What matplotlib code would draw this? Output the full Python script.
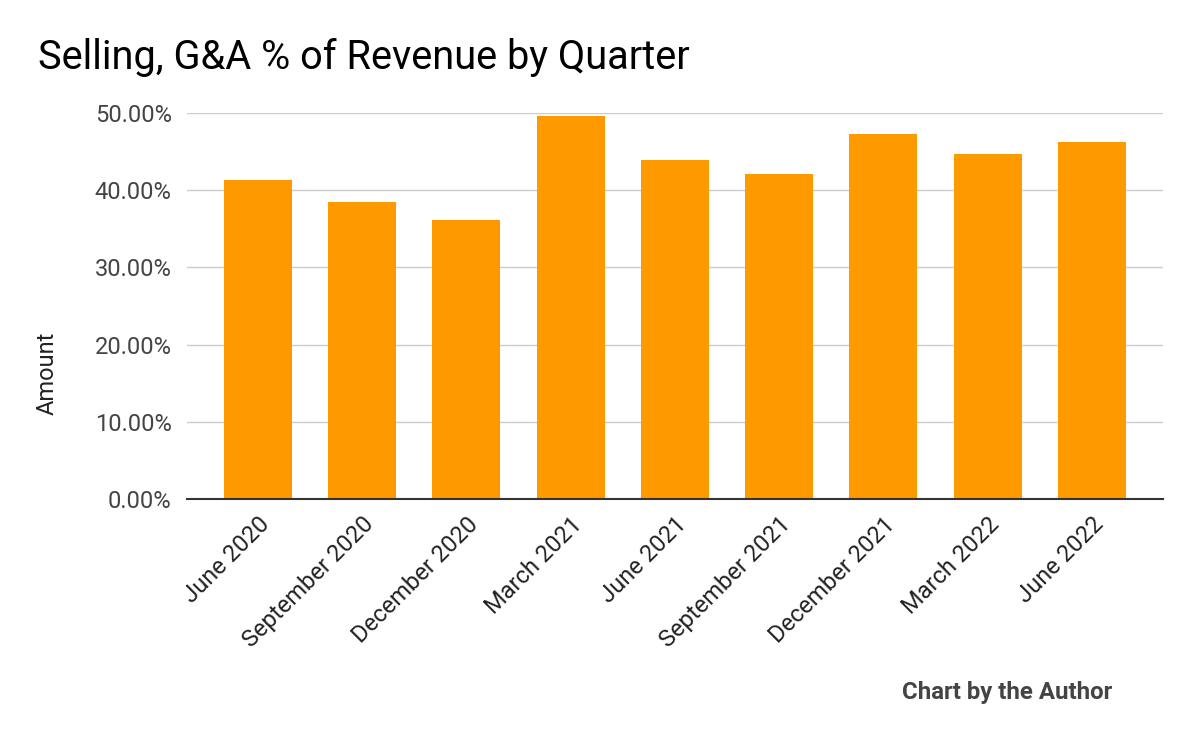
import matplotlib
matplotlib.use("Agg")
import matplotlib.pyplot as plt
from matplotlib.ticker import FuncFormatter

plt.rcParams['font.family'] = ['Roboto', 'DejaVu Sans']

# data
quarters = ['June 2020', 'September 2020', 'December 2020', 'March 2021', 'June 2021',
            'September 2021', 'December 2021', 'March 2022', 'June 2022']
sga_pct = [41.3, 38.5, 36.1, 49.6, 43.9, 42.1, 47.3, 44.7, 46.2]
y_ticks = [0, 10, 20, 30, 40, 50]

fig = plt.figure(figsize=(12, 7.42), dpi=100)
ax = fig.add_axes([0.1558, 0.3275, 0.8133, 0.5202])

x = range(len(quarters))
ax.bar(x, sga_pct, width=0.652, color='#ff9900', zorder=2)

ax.set_xlim(-0.681, len(quarters) - 1 + 0.681)
ax.set_ylim(0, 50)
ax.set_yticks(y_ticks)
ax.yaxis.set_major_formatter(FuncFormatter(lambda v, p: f"{v:.2f}%"))
ax.grid(axis='y', color='#cccccc', linewidth=1.0, zorder=0)
ax.tick_params(axis='y', length=0, pad=11, labelsize=17, labelcolor='#444444')

ax.set_xticks(list(x))
ax.set_xticklabels(quarters, rotation=45, ha='right', rotation_mode='anchor',
                   fontsize=17, color='#222222')
ax.tick_params(axis='x', length=0, pad=10)

for s in ['top', 'right', 'left']:
    ax.spines[s].set_visible(False)
ax.spines['bottom'].set_color('#333333')
ax.spines['bottom'].set_linewidth(1.5)
ax.spines['bottom'].set_zorder(3)

fig.text(38 / 1200, 1 - 69 / 742, 'Selling, G&A % of Revenue by Quarter',
         fontsize=28.6, color='#000000', va='baseline')
fig.text(47 / 1200, 1 - 373 / 742, 'Amount', rotation=90, fontsize=17,
         color='#222222', ha='center', va='center')
fig.text(1112 / 1200, 1 - 699 / 742, 'Chart by the Author', fontsize=17.3,
         fontweight='bold', color='#444444', ha='right', va='baseline')

fig.savefig('out.png', dpi=100, facecolor='white')
